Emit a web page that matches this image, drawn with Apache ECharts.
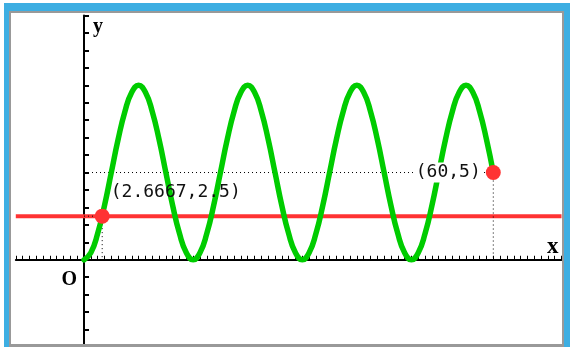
<!DOCTYPE html>
<html>
<head>
<meta charset="utf-8">
<script src="https://cdn.jsdelivr.net/npm/echarts@6/dist/echarts.min.js"></script>
<style>
html,body{margin:0;padding:0;background:#fff;}
#c{width:570px;height:347px;}
</style>
</head>
<body>
<div id="c"></div>
<script>
// x values of the green curve (t)
var tVals = [0,1,2,3,4,5,6,7,8,9,10,11,12,13,14,15,
             16,17,18,19,20,21,22,23,24,25,26,27,28,29,30,31,
             32,33,34,35,36,37,38,39,40,41,42,43,44,45,46,47,
             48,49,50,51,52,53,54,55,56,57,58,59,60];
// y values of the green curve
var yVals = [0,0.4,1.5,3.1,5,6.9,8.5,9.6,10,9.6,8.5,6.9,5,3.1,1.5,0.4,
             0,0.4,1.5,3.1,5,6.9,8.5,9.6,10,9.6,8.5,6.9,5,3.1,1.5,0.4,
             0,0.4,1.5,3.1,5,6.9,8.5,9.6,10,9.6,8.5,6.9,5,3.1,1.5,0.4,
             0,0.4,1.5,3.1,5,6.9,8.5,9.6,10,9.6,8.5,6.9,5];
// horizontal red line level
var redLevel = 2.5;
// marked points
var pointX = [2.6667, 60];
var pointY = [2.5, 5];
var pointLabels = ['(2.6667,2.5)', '(60,5)'];
// axis window
var xMin = -10, xMax = 70, yMin = -5, yMax = 14;

var curve = tVals.map(function(t,i){return [t, yVals[i]];});

var chart = echarts.init(document.getElementById('c'), null, {renderer:'canvas'});

var dotted = {color:'#000', width:1, type:[1,3]};
var guideSeries = [];
for (var i=0;i<pointX.length;i++){
  guideSeries.push({type:'line', data:[[0,pointY[i]],[pointX[i],pointY[i]]], showSymbol:false, lineStyle:dotted, z:3, silent:true, animation:false});
  guideSeries.push({type:'line', data:[[pointX[i],pointY[i]],[pointX[i],0]], showSymbol:false, lineStyle:dotted, z:3, silent:true, animation:false});
}

var option = {
  animation:false,
  backgroundColor:'#fff',
  grid:{left:15.8, right:8.5, top:15.5, bottom:-1, containLabel:false},
  xAxis:{type:'value', min:xMin, max:xMax, interval:1,
    axisLine:{onZero:true, lineStyle:{color:'#000', width:2}},
    axisTick:{show:true, inside:true, length:4, lineStyle:{color:'#000', width:1}},
    axisLabel:{show:false}, splitLine:{show:false}},
  yAxis:{type:'value', min:yMin, max:yMax, interval:1,
    axisLine:{onZero:true, lineStyle:{color:'#000', width:2}},
    axisTick:{show:true, inside:true, length:5, lineStyle:{color:'#000', width:2}},
    axisLabel:{show:false}, splitLine:{show:false}},
  series:[
    {type:'line', data:[[xMin,redLevel],[xMax,redLevel]], showSymbol:false,
     lineStyle:{color:'#ff3333', width:4}, z:2, silent:true},
  ].concat(guideSeries).concat([
    {type:'line', data:curve, smooth:true, showSymbol:false,
     lineStyle:{color:'#00cc00', width:5.5, cap:'round', join:'round'}, z:4, silent:true},
    {type:'scatter', data:pointX.map(function(x,i){return {value:[x,pointY[i]], name:pointLabels[i],
       label:i===0 ? {show:true, position:[16,-16], align:'left', verticalAlign:'middle'}
                   : {show:true, position:[-3,7.5], align:'right', verticalAlign:'middle', backgroundColor:'#fff', padding:[1,2]}};}),
     symbol:'circle', symbolSize:15, itemStyle:{color:'#ff3333', opacity:1}, z:6,
     label:{formatter:function(p){return p.name;}, fontFamily:'DejaVu Sans Mono', fontSize:18, color:'#111'}}
  ]),
  graphic:[
    {type:'text', z:50, style:{x:93, y:17, text:'y', font:'bold 20px "Liberation Serif"', fill:'#000'}},
    {type:'text', z:50, style:{x:547, y:236, text:'x', font:'bold 23px "Liberation Serif"', fill:'#000'}},
    {type:'text', z:50, style:{x:61.5, y:270, text:'O', font:'bold 20px "Liberation Serif"', fill:'#000'}},
    // frame
    {type:'rect', z:100, shape:{x:0,y:0,width:570,height:3}, style:{fill:'#fff'}},
    {type:'rect', z:100, shape:{x:0,y:0,width:4,height:347}, style:{fill:'#fff'}},
    {type:'rect', z:100, shape:{x:4,y:3,width:566,height:8}, style:{fill:'#3daee2'}},
    {type:'rect', z:100, shape:{x:4,y:3,width:5,height:344}, style:{fill:'#3daee2'}},
    {type:'rect', z:100, shape:{x:564,y:3,width:6,height:344}, style:{fill:'#3daee2'}},
    {type:'rect', z:100, shape:{x:9,y:11,width:555,height:2}, style:{fill:'#999'}},
    {type:'rect', z:100, shape:{x:9,y:11,width:2,height:336}, style:{fill:'#999'}},
    {type:'rect', z:100, shape:{x:562,y:11,width:2,height:336}, style:{fill:'#999'}},
    {type:'rect', z:100, shape:{x:9,y:344,width:555,height:3}, style:{fill:'#999'}}
  ]
};
chart.setOption(option);
</script>
</body>
</html>
